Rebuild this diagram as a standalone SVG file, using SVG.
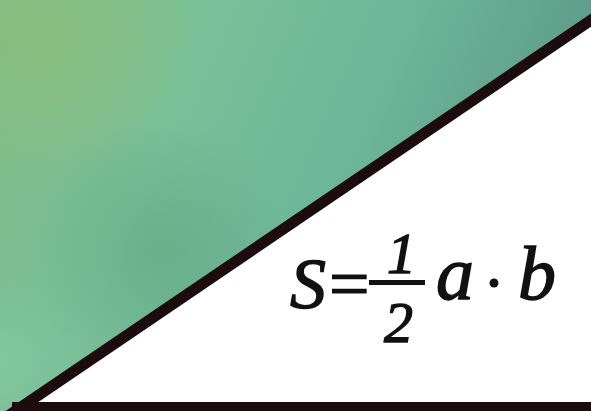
<svg xmlns="http://www.w3.org/2000/svg" width="591" height="411" viewBox="0 0 591 411">
  <style>
    .f { font-family: "Liberation Serif", "Times New Roman", serif; font-style: italic; fill: #111; stroke: #111; stroke-width: 1.4; }
    .u { font-family: "Liberation Serif", "Times New Roman", serif; fill: #111; stroke: #111; stroke-width: 1.2; }
  </style>
  <defs>
    <linearGradient id="bg" x1="0" y1="0" x2="1" y2="0.3">
      <stop offset="0" stop-color="#7fbc86"/>
      <stop offset="0.35" stop-color="#79bf98"/>
      <stop offset="0.65" stop-color="#6db59b"/>
      <stop offset="1" stop-color="#5c9886"/>
    </linearGradient>
    <radialGradient id="yl" cx="50" cy="40" r="150" gradientUnits="userSpaceOnUse">
      <stop offset="0" stop-color="#92bf74" stop-opacity="0.55"/>
      <stop offset="1" stop-color="#92bf74" stop-opacity="0"/>
    </radialGradient>
    <radialGradient id="dk" cx="160" cy="250" r="130" gradientUnits="userSpaceOnUse">
      <stop offset="0" stop-color="#55946f" stop-opacity="0.35"/>
      <stop offset="1" stop-color="#55946f" stop-opacity="0"/>
    </radialGradient>
    <radialGradient id="lt" cx="0" cy="360" r="80" gradientUnits="userSpaceOnUse">
      <stop offset="0" stop-color="#86cca6" stop-opacity="0.6"/>
      <stop offset="1" stop-color="#86cca6" stop-opacity="0"/>
    </radialGradient>
  </defs>
  <g id="background">
    <rect x="0" y="0" width="591" height="411" fill="url(#bg)"/>
    <rect x="0" y="0" width="591" height="411" fill="url(#yl)"/>
    <rect x="0" y="0" width="591" height="411" fill="url(#dk)"/>
    <rect x="0" y="0" width="591" height="411" fill="url(#lt)"/>
  </g>
  <g id="triangle">
    <polygon points="24,406 591,20 591,406" fill="#ffffff"/>
    <line x1="8" y1="416" x2="600" y2="14" stroke="#1c0c0e" stroke-width="11"/>
    <rect x="12" y="402" width="579" height="9" fill="#1c0c0e"/>
  </g>
  <g id="formula">
    <text class="f" x="290" y="308" font-size="72">S</text>
    <text class="u" x="329" y="308" font-size="72">=</text>
    <rect x="369" y="280" width="56" height="5" fill="#111"/>
    <text class="f" x="387" y="273" font-size="58">1</text>
    <text class="f" x="384" y="342" font-size="58">2</text>
    <text class="f" x="436" y="299" font-size="76">a</text>
    <circle cx="494" cy="283" r="4.5" fill="#111"/>
    <text class="f" x="518" y="299" font-size="76">b</text>
  </g>
</svg>
